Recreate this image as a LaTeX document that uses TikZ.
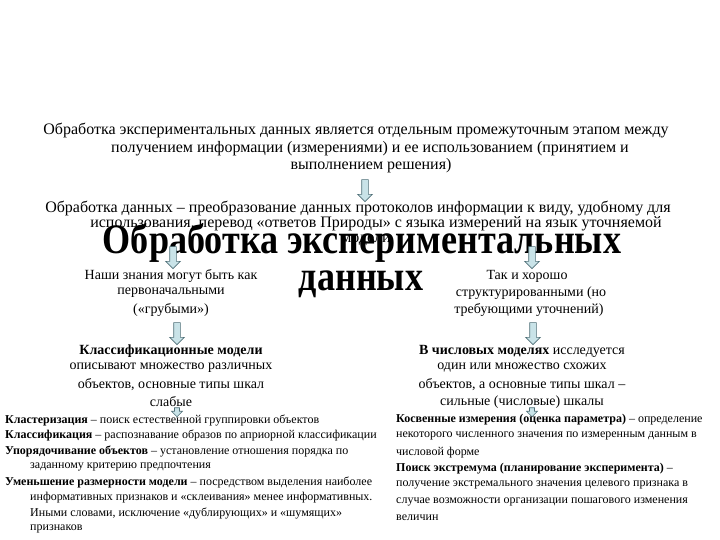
\documentclass[tikz,border=0pt]{standalone}
\usepackage{fontspec}
\setmainfont{Liberation Serif}
\newfontfamily\titlefont[FakeStretch=0.86]{Liberation Serif}
\usetikzlibrary{shapes.arrows}
\definecolor{arrowfill}{HTML}{C9E3E8}
\definecolor{arrowline}{HTML}{4F6F77}
\begin{document}
\begin{tikzpicture}[x=1pt,y=-1pt,
  body/.style={font=\rmfamily\fontsize{16}{19}\selectfont, inner sep=0pt, anchor=center},
  col/.style={font=\rmfamily\fontsize{14}{17}\selectfont, inner sep=0pt, anchor=center},
  small/.style={font=\rmfamily\fontsize{12}{14}\selectfont, inner sep=0pt, anchor=west},
  bigtitle/.style={font=\titlefont\fontsize{42}{46}\selectfont\bfseries, inner sep=0pt, anchor=center},
  barrow/.style={single arrow, shape border rotate=270, draw=arrowline, fill=arrowfill,
    line width=0.6pt, inner sep=3pt, minimum height=22pt, single arrow head extend=4pt},
  sarrow/.style={barrow, minimum height=9pt, inner sep=2.2pt, single arrow head extend=3pt}
]
\useasboundingbox (0,0) rectangle (720,540);
\fill[white] (0,0) rectangle (720,540);

% paragraph 1
\node[body] (p1a) at (356,131) {Обработка экспериментальных данных является отдельным промежуточным этапом между};
\node[body] (p1b) at (370,149) {получением информации (измерениями) и ее использованием (принятием и};
\node[body] (p1c) at (371,166) {выполнением решения)};
\node[barrow] (a1) at (365,189) {};

% paragraph 2
\node[body] (p2a) at (358,208) {Обработка данных – преобразование данных протоколов информации к виду, удобному для};
\node[body] (p2b) at (376,224) {использования, перевод «ответов Природы» с языка измерений на язык уточняемой};
\node[body] (p2c) at (366,240) {модели};

% title
\node[bigtitle] (t1) at (362,243) {Обработка экспериментальных};
\node[bigtitle] (t2) at (361,284) {данных};

% left column
\node[barrow] (a2) at (173,256) {};
\node[col] (l1) at (171,276) {Наши знания могут быть как};
\node[col] (l2) at (171,293) {первоначальными};
\node[col] (l3) at (171,310) {(«грубыми»)};
\node[barrow] (a4) at (177,332) {};
\node[col] (l4) at (171,351) {\textbf{Классификационные модели}};
\node[col] (l5) at (171,368) {описывают множество различных};
\node[col] (l6) at (171,385) {объектов, основные типы шкал};
\node[col] (l7) at (171,402) {слабые};
\node[sarrow] (a6) at (177,411) {};

% right column
\node[barrow] (a3) at (532,256) {};
\node[col] (r1) at (527,276) {Так и хорошо};
\node[col] (r2) at (531,293) {структурированными (но};
\node[col] (r3) at (529,310) {требующими уточнений)};
\node[barrow] (a5) at (533,332) {};
\node[col] (r4) at (522,351) {\textbf{В числовых моделях} исследуется};
\node[col] (r5) at (522,368) {один или множество схожих};
\node[col] (r6) at (522,385) {объектов, а основные типы шкал –};
\node[col] (r7) at (522,402) {сильные (числовые) шкалы};
\node[sarrow] (a7) at (532,411) {};

% bottom left list
\node[small] (b1) at (5,420) {\textbf{Кластеризация} – поиск естественной группировки объектов};
\node[small] (b2) at (5,435.6) {\textbf{Классификация} – распознавание образов по априорной классификации};
\node[small] (b3) at (5,451.2) {\textbf{Упорядочивание объектов} – установление отношения порядка по};
\node[small] (b4) at (30,466.8) {заданному критерию предпочтения};
\node[small] (b5) at (5,482.4) {\textbf{Уменьшение размерности модели} – посредством выделения наиболее};
\node[small] (b6) at (30,498) {информативных признаков и «склеивания» менее информативных.};
\node[small] (b7) at (30,513.6) {Иными словами, исключение «дублирующих» и «шумящих»};
\node[small] (b8) at (30,529.2) {признаков};

% bottom right list
\node[small] (c1) at (396,420) {\textbf{Косвенные измерения (оценка параметра)} – определение};
\node[small] (c2) at (396,436.3) {некоторого численного значения по измеренным данным в};
\node[small] (c3) at (396,452.6) {числовой форме};
\node[small] (c4) at (396,468.9) {\textbf{Поиск экстремума (планирование эксперимента)} –};
\node[small] (c5) at (396,485.2) {получение экстремального значения целевого признака в};
\node[small] (c6) at (396,501.5) {случае возможности организации пошагового изменения};
\node[small] (c7) at (396,517.8) {величин};
\end{tikzpicture}
\end{document}
